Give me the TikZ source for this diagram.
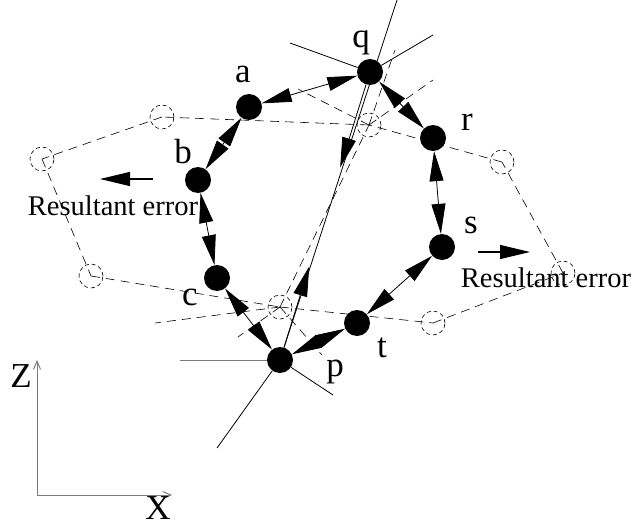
\documentclass[tikz,border=0pt]{standalone}
\usepackage{fontspec}
\setmainfont{Liberation Serif}
\usetikzlibrary{arrows.meta,calc}
\definecolor{axisGray}{HTML}{7A7A7A}

\begin{document}
\begin{tikzpicture}[x=1pt, y=-1pt, >={Triangle[length=30pt,width=14pt]},
  dot/.style={circle, fill=black, inner sep=0pt, minimum size=26pt},
  ghost/.style={circle, draw, inner sep=0pt, minimum size=24pt, line width=0.6pt, dash pattern=on 4pt off 3pt},
  ghostline/.style={line width=0.6pt, dash pattern=on 9pt off 6pt},
  link/.style={<->, line width=0.8pt},
  lbl/.style={font=\fontsize{35}{40}\selectfont, anchor=base, inner sep=0pt},
  errlbl/.style={font=\fontsize{28.5}{32}\selectfont, anchor=base, inner sep=0pt}]
\useasboundingbox (0,0) rectangle (632,527);
\node[ghost] (a1) at (162,117) {};
\node[ghost] (b1) at (42,159) {};
\node[ghost] (c1) at (91,276) {};
\node[ghost] (q1) at (369,125) {};
\node[ghost] (p1) at (280,307) {};
\node[ghost] (r1) at (502,162) {};
\node[ghost] (s1) at (563,273) {};
\node[ghost] (t1) at (433,323) {};
\coordinate (q1top) at (395,50);
\coordinate (q1left) at (298,89);
\coordinate (q1right) at (433,80);
\coordinate (p1left) at (155,323);
\coordinate (p1down) at (238,337);
\coordinate (p1right) at (322,355);
\foreach \u/\v in {q1/a1,a1/b1,b1/c1,c1/p1,p1/t1,t1/s1,s1/r1,r1/q1,p1/q1}
  \draw[ghostline] (\u.center) -- (\v.center);
\foreach \w in {q1top,q1left,q1right}
  \draw[ghostline] (q1.center) -- (\w);
\foreach \w in {p1left,p1down,p1right}
  \draw[ghostline] (p1.center) -- (\w);
\node[dot] (q) at (370,72) {};
\node[dot] (a) at (249,107) {};
\node[dot] (r) at (433,138) {};
\node[dot] (b) at (198,180) {};
\node[dot] (s) at (442,247) {};
\node[dot] (c) at (217,278) {};
\node[dot] (t) at (357,323) {};
\node[dot] (p) at (280,360) {};
\coordinate (qtop) at (397,0);
\coordinate (qleft) at (290,43);
\coordinate (qright) at (433,35);
\coordinate (pleft) at (180,360);
\coordinate (pdown) at (217,448);
\coordinate (pright) at (333,395);
\draw[line width=0.8pt] (p) -- (qtop);
\draw[line width=0.8pt] (qleft) -- (q) -- (qright);
\draw[line width=0.8pt] (pdown) -- (p) -- (pright);
\draw[axisGray, line width=1pt] (pleft) -- (p);
\foreach \u/\v in {a/q,a/b,b/c,c/p,p/t,t/s,s/r,r/q}
  \draw[link] (\u) -- (\v);
\draw[->, line width=0.8pt] (q) -- ($(q)!100pt!(p)$);
\draw[->, line width=0.8pt] (p) -- ($(p)!98pt!(q)$);
\node[lbl] (lq) at (361,48) {q};
\node[lbl] (la) at (243,83) {a};
\node[lbl] (lr) at (467,130) {r};
\node[lbl] (lb) at (183,163) {b};
\node[lbl] (ls) at (471,233) {s};
\node[lbl] (lc) at (190,305) {c};
\node[lbl] (lt) at (382,357) {t};
\node[lbl] (lp) at (335,376) {p};
\coordinate (eL0) at (153,179);
\coordinate (eL1) at (100,179);
\coordinate (eR0) at (478,252);
\coordinate (eR1) at (530,252);
\draw[->, line width=1.2pt] (eL0) -- (eL1);
\draw[->, line width=1.2pt] (eR0) -- (eR1);
\node[errlbl] (errL) at (113,215) {Resultant error};
\node[errlbl] (errR) at (546,287) {Resultant error};
\coordinate (o) at (37,495);
\coordinate (zend) at (37,360);
\coordinate (xend) at (172,495);
\draw[axisGray, line width=1pt, -{Straight Barb[length=8pt,width=7pt]}] (o) -- (zend);
\draw[axisGray, line width=1pt, -{Straight Barb[length=8pt,width=7pt]}] (o) -- (xend);
\node[lbl] (lz) at (21,387) {Z};
\node[lbl] (lx) at (158,519) {X};
\end{tikzpicture}
\end{document}
